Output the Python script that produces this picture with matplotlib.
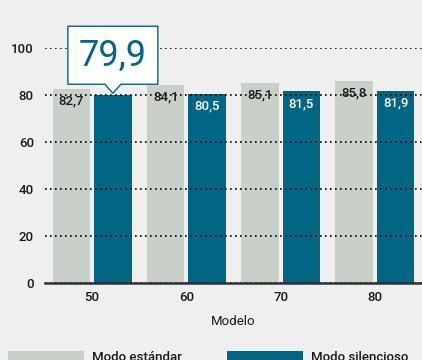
import matplotlib
matplotlib.use("Agg")
import matplotlib.pyplot as plt
import numpy as np
from matplotlib.patches import Polygon, Rectangle
from matplotlib.transforms import IdentityTransform, ScaledTranslation

plt.rcParams["font.family"] = ["Roboto", "DejaVu Sans"]
plt.rcParams["font.weight"] = "medium"

modelos = ["50", "60", "70", "80"]
modo_estandar = [82.7, 84.1, 85.1, 85.8]
modo_silencioso = [79.9, 80.5, 81.5, 81.9]
destacado = 0  # index of the silent-mode bar shown in the callout

GRIS = "#c9cfc9"
AZUL = "#006684"
FONDO = "#efefef"
TEXTO = "#1a1a1a"

fig = plt.figure(figsize=(4.22, 3.60), dpi=100, facecolor=FONDO)
ax = fig.add_axes([45 / 422, 1 - 283 / 360, 1 - 45 / 422, (283 - 48) / 360])
ax.set_facecolor(FONDO)

x = np.arange(len(modelos))
w = 0.40
off = 0.22
ax.bar(x - off, modo_estandar, w, color=GRIS, zorder=1)
ax.bar(x + off, modo_silencioso, w, color=AZUL, zorder=1)

ax.set_xlim(-0.5, 3.5)
ax.set_ylim(0, 100)
ax.set_yticks([0, 20, 40, 60, 80, 100])
ax.yaxis.grid(True, color="black", linestyle=(0, (1, 2)), linewidth=1.2, zorder=3)
ax.set_axisbelow(False)
for s in ["top", "right", "left"]:
    ax.spines[s].set_visible(False)
ax.spines["bottom"].set_color("#333333")
ax.spines["bottom"].set_linewidth(1.8)
ax.spines["bottom"].set_zorder(4)
ax.tick_params(axis="y", length=0, pad=8, labelsize=9.5, labelcolor=TEXTO)
ax.tick_params(axis="x", length=0, pad=6, labelsize=9.5, labelcolor=TEXTO)
ax.set_xticks(x)
ax.set_xticklabels(modelos)
ax.set_xlabel("Modelo", fontsize=9.5, color=TEXTO, labelpad=8)

# value labels inside the top of each bar
for xi, v in zip(x - off, modo_estandar):
    ax.annotate(f"{v:.1f}".replace(".", ","), (xi, v), xytext=(0, -4),
                textcoords="offset points", ha="center", va="top",
                fontsize=9.5, color=TEXTO, zorder=5)
for i, (xi, v) in enumerate(zip(x + off, modo_silencioso)):
    if i == destacado:
        continue
    ax.annotate(f"{v:.1f}".replace(".", ","), (xi, v), xytext=(0, -4),
                textcoords="offset points", ha="center", va="top",
                fontsize=9.5, color="white", zorder=5)

# callout box with pointer over the highlighted bar
xc, yc = x[destacado] + off, modo_silencioso[destacado]
anchor = IdentityTransform() + ScaledTranslation(xc, yc, ax.transData)
forma = [(0, 2), (-8, 11), (-45, 11), (-45, 69), (45, 69), (45, 11), (8, 11)]
caja = Polygon(forma, closed=True, facecolor="white", edgecolor=AZUL,
               linewidth=1.0, transform=anchor, clip_on=False, zorder=6)
ax.add_patch(caja)
ax.text(0, 40, f"{modo_silencioso[destacado]:.1f}".replace(".", ","),
        transform=anchor, ha="center", va="center", fontsize=26,
        fontweight="normal", color=AZUL, zorder=7, clip_on=False)

# legend along the bottom edge
for px, col, lab in [(8, GRIS, "Modo estándar"), (227, AZUL, "Modo silencioso")]:
    fig.patches.append(Rectangle((px / 422, 0), 76 / 422, 9 / 360,
                                 transform=fig.transFigure, facecolor=col,
                                 edgecolor="none"))
    fig.text((px + 84) / 422, 1 - 351 / 360, lab, ha="left", va="top",
             fontsize=9.5, color=TEXTO)

fig.savefig("out.png", dpi=100, facecolor=FONDO)
